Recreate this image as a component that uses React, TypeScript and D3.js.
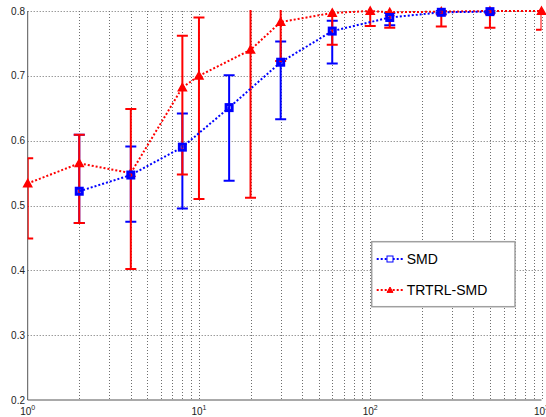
import { useEffect } from 'react';
import * as d3 from 'd3';

const WIDTH = 546;
const HEIGHT = 417;
const PLOT = { left: 27.7, right: 541.5, top: 11, bottom: 400 };

// SMD series
const smdX = [2, 4, 8, 15, 30, 60, 130, 260, 500];
const smdY = [0.522, 0.547, 0.59, 0.651, 0.721, 0.769, 0.79, 0.798, 0.799];
const smdLo = [0.473, 0.475, 0.4955, 0.538, 0.633, 0.719, 0.778, 0.795, 0.797];
const smdHi = [0.609, 0.591, 0.642, 0.701, 0.753, 0.785, 0.797, 0.801, 0.801];

// TRTRL-SMD series
const trX = [1, 2, 4, 8, 10, 20, 30, 60, 100, 130, 260, 500, 1000];
const trY = [0.534, 0.565, 0.55, 0.682, 0.7, 0.74, 0.783, 0.797, 0.8, 0.798, 0.799, 0.8, 0.8];
const trLo = [0.449, 0.473, 0.402, 0.548, 0.51, 0.512, 0.723, 0.748, 0.777, 0.774, 0.776, 0.774, 0.771];
const trHi = [0.573, 0.609, 0.649, 0.762, 0.79, 0.968, 0.843, 0.846, 0.823, 0.822, 0.822, 0.826, 0.829];

const yTicks = [0.2, 0.3, 0.4, 0.5, 0.6, 0.7, 0.8];
const xMajor = [1, 10, 100, 1000];
const xLabels = ['0', '1', '2', '3'];

const BLUE = '#0000ff';
const RED = '#ff0000';
const FONT = '"Liberation Sans", Arial, Helvetica, sans-serif';

const x = d3.scaleLog().domain([1, 1000]).range([PLOT.left, PLOT.right]);
const y = d3.scaleLinear().domain([0.2, 0.8]).range([PLOT.bottom, PLOT.top]);

const xMinor: number[] = [];
[1, 10, 100].forEach((d) => {
  for (let k = 2; k <= 9; k++) xMinor.push(d * k);
});

const line = d3.line<number>();

function triPath(cx: number, cy: number, s: number) {
  return `M${cx},${cy - s}L${cx + s},${cy + s * 0.8}L${cx - s},${cy + s * 0.8}Z`;
}

function ErrorBars({ xs, lo, hi, color }: { xs: number[]; lo: number[]; hi: number[]; color: string }) {
  return (
    <g stroke={color} strokeWidth={2} clipPath="url(#plotclip)">
      {xs.map((d, i) => {
        const cx = x(d);
        return (
          <g key={i}>
            <line x1={cx} x2={cx} y1={y(lo[i])} y2={y(hi[i])} />
            <line x1={cx - 5.5} x2={cx + 5.5} y1={y(lo[i])} y2={y(lo[i])} />
            <line x1={cx - 5.5} x2={cx + 5.5} y1={y(hi[i])} y2={y(hi[i])} />
          </g>
        );
      })}
    </g>
  );
}

export default function App() {
  useEffect(() => {
    document.body.style.margin = '0';
  }, []);

  const smdPts = smdX.map((d, i) => [x(d), y(smdY[i])] as [number, number]);
  const trPts = trX.map((d, i) => [x(d), y(trY[i])] as [number, number]);

  const legX = 371.7;
  const legY = 241.7;

  return (
    <svg width={WIDTH} height={HEIGHT} style={{ display: 'block', background: '#fff' }} fontFamily={FONT}>
      <defs>
        <clipPath id="plotclip">
          <rect x={PLOT.left} y={PLOT.top - 1} width={PLOT.right - PLOT.left} height={PLOT.bottom - PLOT.top + 1} />
        </clipPath>
      </defs>

      {/* grid */}
      <g stroke="#6e6e6e" strokeWidth={1} strokeDasharray="1,2">
        {yTicks.slice(1).map((t) => (
          <line key={'gy' + t} x1={PLOT.left} x2={PLOT.right} y1={Math.round(y(t)) + 0.5} y2={Math.round(y(t)) + 0.5} />
        ))}
        {[...xMajor.slice(1), ...xMinor].map((t) => (
          <line key={'gx' + t} x1={Math.round(x(t)) + 0.5} x2={Math.round(x(t)) + 0.5} y1={PLOT.top} y2={PLOT.bottom} />
        ))}
      </g>

      {/* axes */}
      <g stroke="#555" strokeWidth={1}>
        <line x1={PLOT.left} x2={PLOT.left} y1={PLOT.top} y2={PLOT.bottom} />
        <line x1={PLOT.left} x2={PLOT.right} y1={PLOT.bottom} y2={PLOT.bottom} />
      </g>

      {/* y labels */}
      <g fontSize={10} fill="#222" textAnchor="end">
        {yTicks.map((t) => (
          <text key={'ly' + t} x={25} y={y(t)} dy="0.35em">
            {d3.format('.1f')(t)}
          </text>
        ))}
      </g>

      {/* x labels */}
      <g fontSize={10} fill="#222" textAnchor="middle">
        {xMajor.map((t, i) => (
          <text key={'lx' + t} x={x(t)} y={415}>
            10<tspan fontSize={7} dy={-5}>{xLabels[i]}</tspan>
          </text>
        ))}
      </g>

      {/* error bars */}
      <ErrorBars xs={smdX} lo={smdLo} hi={smdHi} color={BLUE} />
      <ErrorBars xs={trX} lo={trLo} hi={trHi} color={RED} />

      {/* TRTRL-SMD */}
      <path d={line(trPts) || ''} fill="none" stroke={RED} strokeWidth={2} strokeDasharray="2,2" clipPath="url(#plotclip)" />
      <g fill={RED} stroke={RED} strokeWidth={1.5}>
        {trPts.map((p, i) => (
          <path key={i} d={triPath(p[0], p[1], 4)} />
        ))}
      </g>

      {/* SMD */}
      <path d={line(smdPts) || ''} fill="none" stroke={BLUE} strokeWidth={2} strokeDasharray="2,2" clipPath="url(#plotclip)" />
      <g fill="none" stroke={BLUE} strokeWidth={3}>
        {smdPts.map((p, i) => (
          <rect key={i} x={p[0] - 3} y={p[1] - 3} width={6} height={6} />
        ))}
      </g>

      {/* legend */}
      <rect x={legX} y={legY} width={143.3} height={65} fill="#fff" stroke="#a0a0a0" strokeWidth={1.5} />
      <g>
        <line x1={376.7} x2={403.3} y1={259} y2={259} stroke={BLUE} strokeWidth={2} strokeDasharray="2,2" />
        <rect x={387} y={256} width={6} height={6} fill="#fff" stroke={BLUE} strokeWidth={1} />
        <text x={406.7} y={259} dy="0.35em" fontSize={14} fill="#000">SMD</text>
        <line x1={376.7} x2={403.3} y1={290} y2={290} stroke={RED} strokeWidth={2} strokeDasharray="2,2" />
        <path d={triPath(390, 290, 3)} fill={RED} stroke={RED} strokeWidth={1} />
        <text x={406.7} y={290} dy="0.35em" fontSize={14} fill="#000">TRTRL-SMD</text>
      </g>
    </svg>
  );
}
